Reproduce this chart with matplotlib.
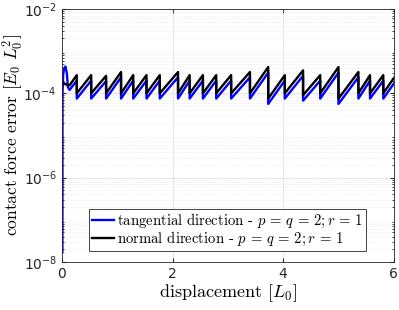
import numpy as np
import matplotlib
matplotlib.use('Agg')
import matplotlib.pyplot as plt
from matplotlib.ticker import LogLocator, NullFormatter

plt.rcParams['mathtext.fontset'] = 'cm'
plt.rcParams['font.family'] = ['DejaVu Sans']

# sawtooth break points (displacement where the error drops)
drop_x = [0.27, 0.53, 0.80, 1.07, 1.29, 1.53, 1.77, 2.10, 2.31, 2.55, 2.79,
          3.06, 3.40, 3.73, 4.03, 4.36, 4.67, 5.00, 5.36, 5.57, 5.81]

# normal direction: value just before / just after each drop
normal_start_x = [0.01, 0.06, 0.14]
normal_start_y = [1.85e-4, 1.65e-4, 1.55e-4]
normal_peak = [2.7e-4, 2.7e-4, 2.6e-4, 3.2e-4, 2.7e-4, 2.7e-4, 2.7e-4, 3.2e-4,
               2.7e-4, 2.7e-4, 2.7e-4, 2.7e-4, 3.2e-4, 4.2e-4, 2.7e-4, 3.5e-4,
               2.7e-4, 4.2e-4, 3.2e-4, 2.7e-4, 2.7e-4]
normal_trough = [1.0e-4, 1.0e-4, 1.0e-4, 1.0e-4, 1.0e-4, 1.0e-4, 1.0e-4, 1.0e-4,
                 1.0e-4, 1.0e-4, 1.0e-4, 1.0e-4, 1.0e-4, 7.5e-5, 1.0e-4, 9.0e-5,
                 1.0e-4, 7.5e-5, 1.0e-4, 1.0e-4, 1.0e-4]
normal_end = 2.3e-4

# tangential direction
tang_start_x = [0.01, 0.012, 0.025, 0.045, 0.066, 0.09, 0.11, 0.14]
tang_start_y = [1.7e-8, 1.0e-4, 3.0e-4, 4.0e-4, 4.3e-4, 3.0e-4, 1.4e-4, 1.2e-4]
tang_peak = [2.0e-4, 2.0e-4, 1.95e-4, 2.4e-4, 2.0e-4, 2.0e-4, 2.0e-4, 2.4e-4,
             2.0e-4, 2.0e-4, 2.0e-4, 2.0e-4, 2.4e-4, 3.1e-4, 2.0e-4, 2.6e-4,
             2.0e-4, 3.1e-4, 2.4e-4, 2.0e-4, 2.0e-4]
tang_trough = [7.5e-5, 7.5e-5, 7.5e-5, 7.5e-5, 7.5e-5, 7.5e-5, 7.5e-5, 7.5e-5,
               7.5e-5, 7.5e-5, 7.5e-5, 7.5e-5, 7.5e-5, 5.6e-5, 7.5e-5, 6.7e-5,
               7.5e-5, 5.6e-5, 7.5e-5, 7.5e-5, 7.5e-5]
tang_end = 1.7e-4
x_end = 6.0


def sawtooth(start_x, start_y, peaks, troughs, end_y):
    xs = list(start_x)
    ys = list(start_y)
    for x, p, t in zip(drop_x, peaks, troughs):
        xs += [x, x]
        ys += [p, t]
    xs.append(x_end)
    ys.append(end_y)
    return np.array(xs), np.array(ys)


xt, yt = sawtooth(tang_start_x, tang_start_y, tang_peak, tang_trough, tang_end)
xn, yn = sawtooth(normal_start_x, normal_start_y, normal_peak, normal_trough, normal_end)

fig = plt.figure(figsize=(3.99, 3.10), dpi=100)
ax = fig.add_axes([0.155, 0.155, 0.832, 0.816])

ax.plot(xt, yt, color='blue', lw=1.7,
        label=r'tangential direction - $p\,=\,q\,=\,2;r\,=\,1$')
ax.plot(xn, yn, color='black', lw=1.7,
        label=r'normal direction - $p\,=\,q\,=\,2;r\,=\,1$')

ax.set_yscale('log')
ax.set_xlim(0, 6)
ax.set_ylim(1e-8, 1e-2)
ax.set_xticks([0, 2, 4, 6])
ax.set_yticks([1e-8, 1e-6, 1e-4, 1e-2])
ax.yaxis.set_minor_locator(LogLocator(base=10, subs=np.arange(2, 10), numticks=20))
ax.yaxis.set_minor_formatter(NullFormatter())

ax.grid(True, which='major', color='#e0e0e0', lw=0.6)
ax.grid(True, which='minor', axis='y', color='#e3e3e3', lw=0.5, ls=':')
ax.set_axisbelow(True)

ax.tick_params(which='both', direction='in', top=True, right=True,
               labelsize=10, colors='#262626')
ax.tick_params(which='major', length=3)
ax.tick_params(which='minor', length=1.5)
for s in ax.spines.values():
    s.set_color('#262626')
    s.set_linewidth(0.6)

ax.set_xlabel(r'displacement $[L_0]$', fontsize=13, family='cmr10', labelpad=1)
ax.set_ylabel(r'contact force error $[E_0\ L_0^2]$', fontsize=12.5,
              family='cmr10', labelpad=-1)

leg = ax.legend(loc='lower left', bbox_to_anchor=(0.081, 0.043),
                prop={'family': 'cmr10', 'size': 10.6}, frameon=True, fancybox=False,
                edgecolor='#262626', handlelength=1.5, handletextpad=0.25,
                borderpad=0.2, labelspacing=0.0, borderaxespad=0)
leg.get_frame().set_linewidth(0.6)
leg.get_frame().set_alpha(1)

fig.savefig('out.png', dpi=100)
